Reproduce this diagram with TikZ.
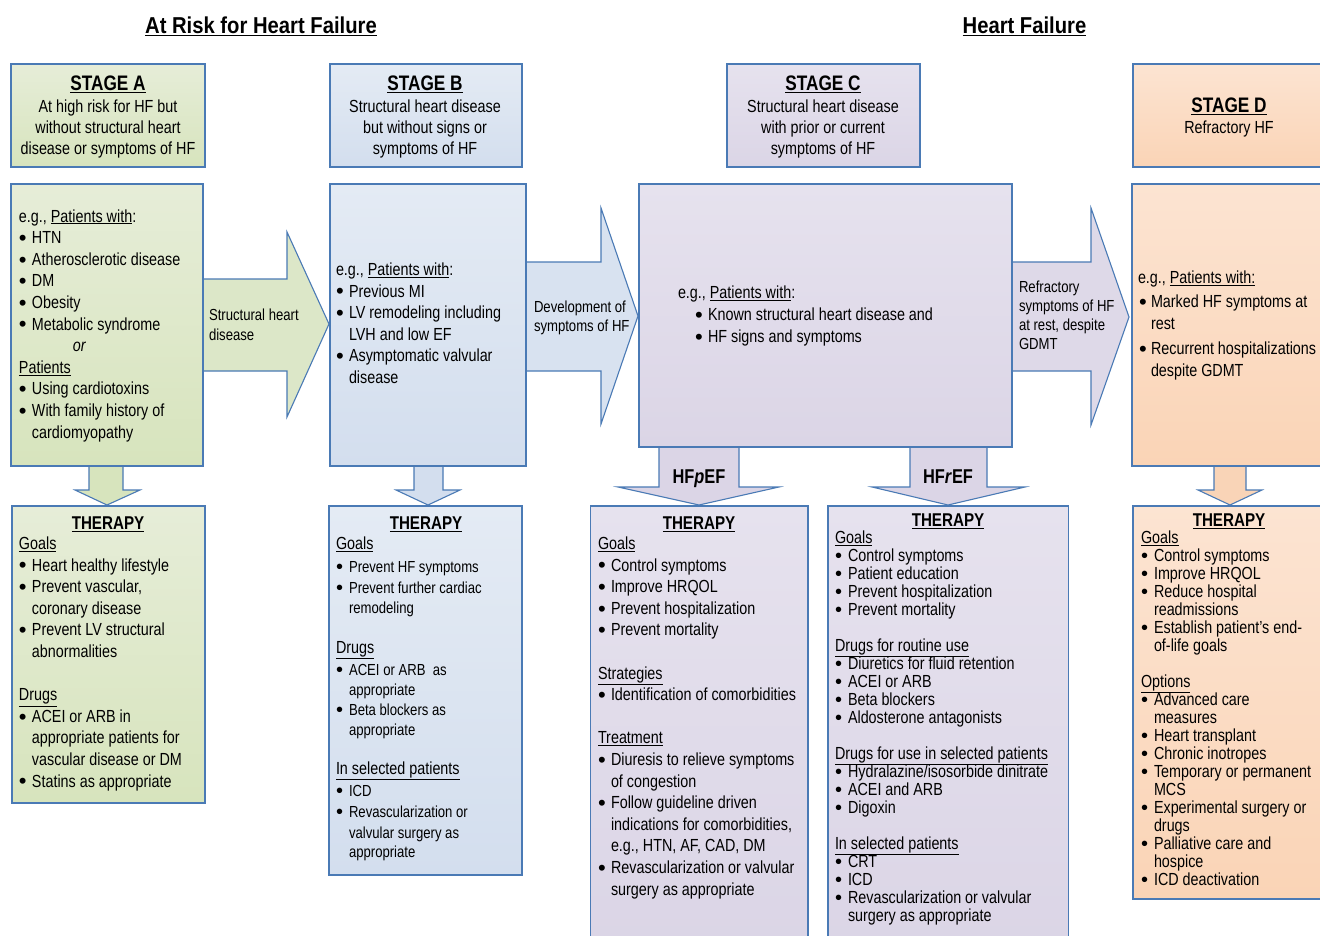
\documentclass[tikz,border=0pt]{standalone}
\usepackage{fontspec}
\setmainfont[FakeStretch=0.82]{Liberation Sans}
\newfontfamily\titlefont[FakeStretch=0.88]{Liberation Sans}
\newfontfamily\bulfont{Liberation Sans}
\definecolor{bord}{HTML}{4A7AB5}
\definecolor{gAt}{HTML}{E6EDD8}\definecolor{gAb}{HTML}{D7E4BD}
\definecolor{gBt}{HTML}{E4EBF4}\definecolor{gBb}{HTML}{D3DEEE}
\definecolor{gCt}{HTML}{E6E2EE}\definecolor{gCb}{HTML}{DBD5E6}
\definecolor{gDt}{HTML}{FCE4D2}\definecolor{gDb}{HTML}{FAD4B6}
\definecolor{arA}{HTML}{DCE7C8}
\definecolor{arB}{HTML}{D8E2F0}
\definecolor{arC}{HTML}{DED9E8}
\definecolor{arD}{HTML}{F9D4B7}
\def\bulsize{22}
\def\bulraise{-1.8pt}
\newcommand\dotb{\raisebox{\bulraise}{\bulfont\fontsize{\bulsize}{\bulsize}\selectfont\textbullet}}
\newcommand\bl{\makebox[13pt][l]{\dotb}}
\newcommand\ind{\hspace*{13pt}}
\newcommand\st{\rule{0pt}{14pt}}
\newcommand\fbody{\fontsize{17.5}{21.6}\selectfont\lineskiplimit=-20pt\relax}
\newcommand\fhead{\fontsize{17.5}{21}\selectfont\lineskiplimit=-20pt\relax}
\newcommand\ftight{\fontsize{17.5}{18}\selectfont\lineskiplimit=-20pt\relax\def\bulsize{20}\def\bulraise{-1.2pt}}
\newcommand\fsmall{\fontsize{16}{20}\selectfont\lineskiplimit=-20pt\relax\def\bulsize{20}\def\bulraise{-1.5pt}}
\newcommand\flab{\fontsize{16}{19}\selectfont\lineskiplimit=-20pt\relax}
\newcommand\fstage{\fontsize{21}{24}\selectfont\bfseries}
\newcommand\fther{\fontsize{18.5}{22}\selectfont\bfseries}
\newcommand\fbig{\fontsize{17.5}{21.6}\selectfont}
\begin{document}
\begin{tikzpicture}[x=1pt,y=-1pt,
  box/.style={draw=bord, line width=1.1pt, inner sep=0pt, outer sep=0pt, anchor=north west},
  boxA/.style={box, top color=gAt, bottom color=gAb},
  boxB/.style={box, top color=gBt, bottom color=gBb},
  boxC/.style={box, top color=gCt, bottom color=gCb},
  boxD/.style={box, top color=gDt, bottom color=gDb},
  arrow/.style={draw=bord, line width=1.1pt, line join=miter},
  tx/.style={inner sep=0pt, outer sep=0pt, anchor=north west, align=left},
  tc/.style={inner sep=0pt, outer sep=0pt, anchor=north, align=center},
  tb/.style={inner sep=0pt, outer sep=0pt, anchor=base},
]
\useasboundingbox[fill=white] (0,0) rectangle (1320,936);

% titles
\node[tb, font=\titlefont\fontsize{23}{26}\selectfont\bfseries] (ttl1) at (261,33.5) {\underline{At Risk for Heart Failure}};
\node[tb, font=\titlefont\fontsize{23}{26}\selectfont\bfseries] (ttl2) at (1024.5,33.5) {\underline{Heart Failure}};

% arrows (drawn before boxes)
\path[arrow, fill=arA] (202,279) -- (287,279) -- (287,232) -- (329,324) -- (287,417) -- (287,371) -- (202,371) -- cycle;
\path[arrow, fill=arB] (526,262) -- (601,262) -- (601,208) -- (638,316) -- (601,424) -- (601,371) -- (526,371) -- cycle;
\path[arrow, fill=arC] (1012,262) -- (1091,262) -- (1091,208) -- (1129,317) -- (1091,425) -- (1091,371) -- (1012,371) -- cycle;
\path[arrow, fill=gAb] (89,466) -- (89,490) -- (75,490) -- (107,505) -- (140,490) -- (123,490) -- (123,466) -- cycle;
\path[arrow, fill=gBb] (414,466) -- (414,490) -- (396,490) -- (428,505) -- (460,490) -- (443,490) -- (443,466) -- cycle;
\path[arrow, fill=gCb] (659,447) -- (659,487) -- (618,487) -- (699,505) -- (779,487) -- (739,487) -- (739,447) -- cycle;
\path[arrow, fill=gCb] (910,447) -- (910,487) -- (872,487) -- (948,505) -- (1025,487) -- (987,487) -- (987,447) -- cycle;
\path[arrow, fill=arD] (1214,466) -- (1214,490) -- (1198,490) -- (1230,505) -- (1262,490) -- (1246,490) -- (1246,466) -- cycle;

% stage header boxes
\node[boxA, minimum width=194pt, minimum height=103pt] (hA) at (11,64) {};
\node[boxB, minimum width=192pt, minimum height=103pt] (hB) at (330,64) {};
\node[boxC, minimum width=193pt, minimum height=103pt] (hC) at (727,64) {};
\node[boxD, minimum width=200pt, minimum height=103pt] (hD) at (1133,64) {};

% main boxes
\node[boxA, minimum width=192pt, minimum height=282pt] (mA) at (11,184) {};
\node[boxB, minimum width=196pt, minimum height=282pt] (mB) at (330,184) {};
\node[boxC, minimum width=373pt, minimum height=263pt] (mC) at (639,184) {};
\node[boxD, minimum width=200pt, minimum height=282pt] (mD) at (1132,184) {};

% therapy boxes
\node[boxA, minimum width=193pt, minimum height=297pt] (tA) at (12,506) {};
\node[boxB, minimum width=193pt, minimum height=369pt] (tB) at (329,506) {};
\node[boxC, minimum width=217.5pt, minimum height=440pt] (tCp) at (590.5,506) {};
\node[boxC, minimum width=240.5pt, minimum height=440pt] (tCr) at (828,506) {};
\node[boxD, minimum width=200pt, minimum height=393pt] (tD) at (1133,506) {};

% stage header texts
\node[tb, font=\fstage] (hAt) at (108,90.5) {\underline{STAGE A}};
\node[tc, font=\fhead] (hAx) at (108,98.5) {\st At high risk for HF but\\ without structural heart\\ disease or symptoms of HF};
\node[tb, font=\fstage] (hBt) at (425,90.5) {\underline{STAGE B}};
\node[tc, font=\fhead] (hBx) at (425,98.5) {\st Structural heart disease\\ but without signs or\\ symptoms of HF};
\node[tb, font=\fstage] (hCt) at (823,90.5) {\underline{STAGE C}};
\node[tc, font=\fhead] (hCx) at (823,98.5) {\st Structural heart disease\\ with prior or current\\ symptoms of HF};
\node[tb, font=\fstage] (hDt) at (1229,112.5) {\underline{STAGE D}};
\node[tb, font=\fhead] (hDx) at (1229,133.5) {Refractory HF};

% main box texts
\node[tx, font=\fbody] (mAx) at (19,208) {\st e.g., \underline{Patients with}:\\
 \bl HTN\\ \bl Atherosclerotic disease\\ \bl DM\\ \bl Obesity\\ \bl Metabolic syndrome\\
 \hspace*{54pt}\textit{or}\\ \underline{Patients}\\ \bl Using cardiotoxins\\ \bl With family history of\\ \ind cardiomyopathy};
\node[tx, font=\fbody] (mBx) at (336,261.5) {\st e.g., \underline{Patients with}:\\
 \bl Previous MI\\ \bl LV remodeling including\\ \ind LVH and low EF\\ \bl Asymptomatic valvular\\ \ind disease};
\node[tx, font=\fontsize{17.5}{22}\selectfont] (mCx) at (678,284.5) {\st e.g., \underline{Patients with}:\\
 \hspace*{17pt}\bl Known structural heart disease and\\ \hspace*{17pt}\bl HF signs and symptoms};
\node[tx, font=\fontsize{17.5}{22}\selectfont] (mDx) at (1138,269.5) {\st e.g., \underline{Patients with:}\\[2pt]
 \hspace*{1pt}\makebox[12pt][l]{\dotb}Marked HF symptoms at\\ \hspace*{13pt}rest\\[3pt]
 \hspace*{1pt}\makebox[12pt][l]{\dotb}Recurrent hospitalizations\\ \hspace*{13pt}despite GDMT};

% arrow labels
\node[tx, font=\fontsize{16}{20}\selectfont] (lab1) at (209,306.5) {\st Structural heart\\ disease};
\node[tx, font=\flab] (lab2) at (534,298) {\st Development of\\ symptoms of HF};
\node[tx, font=\flab] (lab3) at (1019,278) {\st Refractory\\ symptoms of HF\\ at rest, despite\\ GDMT};
\node[tb, font=\fontsize{20}{22}\selectfont\bfseries] (lpEF) at (699,483) {HF\textit{p}EF};
\node[tb, font=\fontsize{20}{22}\selectfont\bfseries] (lrEF) at (948,483) {HF\textit{r}EF};

% therapy titles
\node[tb, font=\fther] (tAt) at (108,529.6) {\underline{THERAPY}};
\node[tb, font=\fther] (tBt) at (426,529.6) {\underline{THERAPY}};
\node[tb, font=\fther] (tCpt) at (699,529.6) {\underline{THERAPY}};
\node[tb, font=\fther] (tCrt) at (948,526.6) {\underline{THERAPY}};
\node[tb, font=\fther] (tDt) at (1229,526.6) {\underline{THERAPY}};

% therapy texts
\node[tx, font=\fbody] (tAx) at (19,535.5) {\st\underline{Goals}\\ \bl Heart healthy lifestyle\\ \bl Prevent vascular,\\ \ind coronary disease\\
 \bl Prevent LV structural\\ \ind abnormalities\\[21.6pt] \underline{Drugs}\\ \bl ACEI or ARB in\\ \ind appropriate patients for\\
 \ind vascular disease or DM\\ \bl Statins as appropriate};
\node[tx, font=\fsmall] (tBx) at (336,535.5) {\st{\fbig\underline{Goals}}\\[2.5pt] \bl Prevent HF symptoms\\[1pt] \bl Prevent further cardiac\\
 \ind remodeling\\[20.5pt] {\fbig\underline{Drugs}}\\[1.5pt] \bl ACEI or ARB\ \ as\\ \ind appropriate\\ \bl Beta blockers as\\ \ind appropriate\\[19.5pt]
 {\fbig\underline{In selected patients}}\\[1.5pt] \bl ICD\\[1pt] \bl Revascularization or\\[1pt] \ind valvular surgery as\\[-1pt] \ind appropriate};
\node[tx, font=\fbody] (tCpx) at (598,535.5) {\st\underline{Goals}\\ \bl Control symptoms\\ \bl Improve HRQOL\\ \bl Prevent hospitalization\\
 \bl Prevent mortality\\[21.6pt] \underline{Strategies}\\ \bl Identification of comorbidities\\[21.6pt] \underline{Treatment}\\
 \bl Diuresis to relieve symptoms\\ \ind of congestion\\ \bl Follow guideline driven\\ \ind indications for comorbidities,\\
 \ind e.g., HTN, AF, CAD, DM\\ \bl Revascularization or valvular\\ \ind surgery as appropriate};
\node[tx, font=\ftight] (tCrx) at (835,529.5) {\st\underline{Goals}\\ \bl Control symptoms\\ \bl Patient education\\ \bl Prevent hospitalization\\
 \bl Prevent mortality\\[18pt] \underline{Drugs for routine use}\\ \bl Diuretics for fluid retention\\ \bl ACEI or ARB\\ \bl Beta blockers\\
 \bl Aldosterone antagonists\\[18pt] \underline{Drugs for use in selected patients}\\ \bl Hydralazine/isosorbide dinitrate\\
 \bl ACEI and ARB\\ \bl Digoxin\\[18pt] \underline{In selected patients}\\ \bl CRT\\ \bl ICD\\ \bl Revascularization or valvular\\
 \ind surgery as appropriate};
\node[tx, font=\ftight] (tDx) at (1141,529.5) {\st\underline{Goals}\\ \bl Control symptoms\\ \bl Improve HRQOL\\ \bl Reduce hospital\\
 \ind readmissions\\ \bl Establish patient’s end-\\ \ind of-life goals\\[18pt] \underline{Options}\\ \bl Advanced care\\ \ind measures\\
 \bl Heart transplant\\ \bl Chronic inotropes\\ \bl Temporary or permanent\\ \ind MCS\\ \bl Experimental surgery or\\ \ind drugs\\
 \bl Palliative care and\\ \ind hospice\\ \bl ICD deactivation};
\end{tikzpicture}
\end{document}
